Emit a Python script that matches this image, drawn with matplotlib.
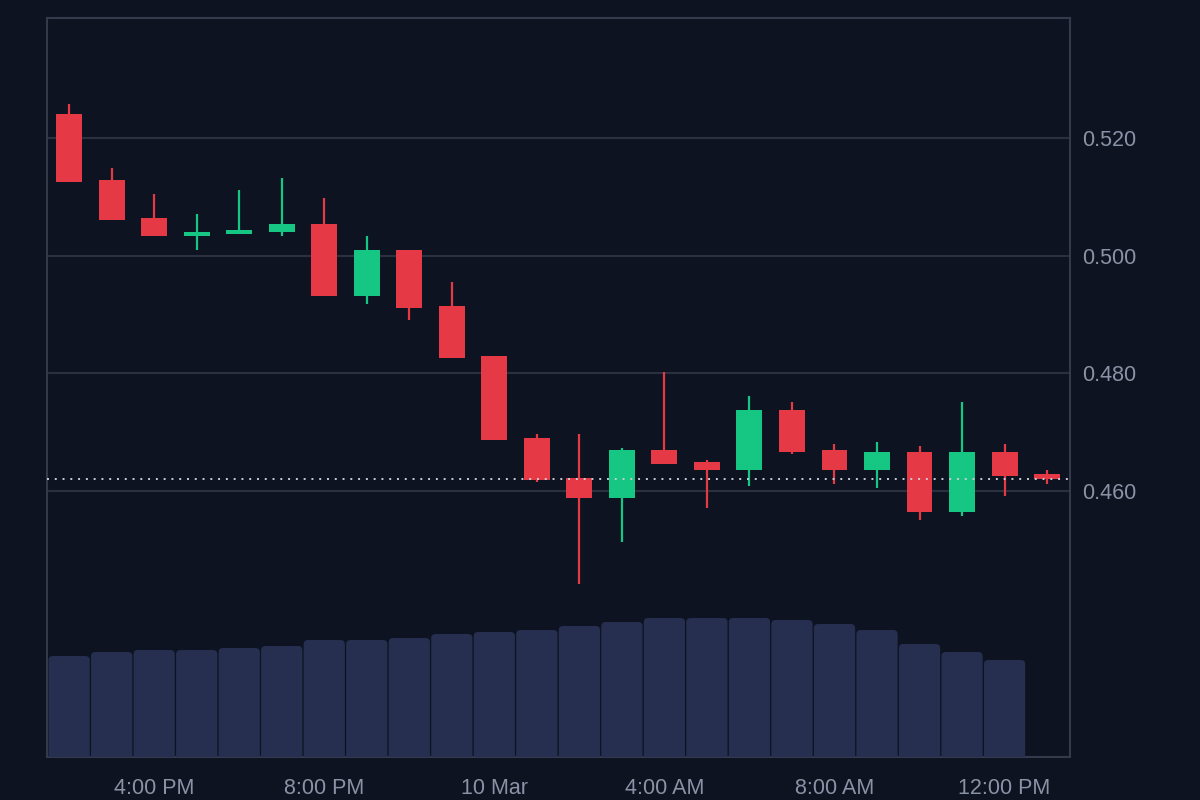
import numpy as np
import matplotlib
matplotlib.use('Agg')
import matplotlib.pyplot as plt
from matplotlib.patches import FancyBboxPatch

plt.rcParams['font.family'] = ['Liberation Sans', 'DejaVu Sans']

# hourly candles, 9 Mar 2:00 PM -> 10 Mar 1:00 PM
opens = [0.5241, 0.5129, 0.5064, 0.5034, 0.5037, 0.5040, 0.5054, 0.4931,
         0.5010, 0.4914, 0.4829, 0.4689, 0.4621, 0.4587, 0.4669, 0.4649,
         0.4635, 0.4737, 0.4669, 0.4635, 0.4666, 0.4563, 0.4666, 0.4628]
highs = [0.5258, 0.5149, 0.5105, 0.5071, 0.5112, 0.5132, 0.5098, 0.5034,
         0.5010, 0.4955, 0.4829, 0.4696, 0.4696, 0.4672, 0.4802, 0.4652,
         0.4761, 0.4751, 0.4679, 0.4683, 0.4676, 0.4751, 0.4679, 0.4635]
lows = [0.5126, 0.5061, 0.5034, 0.5010, 0.5037, 0.5034, 0.4931, 0.4918,
        0.4891, 0.4826, 0.4686, 0.4615, 0.4441, 0.4512, 0.4645, 0.4570,
        0.4608, 0.4662, 0.4611, 0.4604, 0.4550, 0.4557, 0.4591, 0.4611]
closes = [0.5126, 0.5061, 0.5034, 0.5040, 0.5044, 0.5054, 0.4931, 0.5010,
          0.4911, 0.4826, 0.4686, 0.4618, 0.4587, 0.4669, 0.4645, 0.4635,
          0.4737, 0.4666, 0.4635, 0.4666, 0.4563, 0.4666, 0.4625, 0.4620]
volumes = [101, 105, 107, 107, 109, 111, 117, 117, 119, 123, 125, 127,
           131, 135, 139, 139, 139, 137, 133, 127, 113, 105, 97]

tick_pos = [2, 6, 10, 14, 18, 22]
tick_labels = ['4:00 PM', '8:00 PM', '10 Mar', '4:00 AM', '8:00 AM', '12:00 PM']
price_ticks = [0.460, 0.480, 0.500, 0.520]

BG = '#0d1320'
UP = '#16c784'
DOWN = '#e63946'
VOL = '#262f50'
GRID = '#2a3040'
TXT = '#8a92a5'

fig = plt.figure(figsize=(12, 8), dpi=100, facecolor=BG)
ax = fig.add_axes([0.0392, 0.0537, 0.8525, 0.9238])
ax.set_facecolor(BG)

# volume on a twin axis (drawn behind the candles)
ax2 = ax.twinx()
ax2.set_ylim(0, 739)
ax2.axis('off')
for i, v in enumerate(volumes):
    box = FancyBboxPatch((i - 0.485, -10), 0.97, v + 10,
                         boxstyle='round,pad=0,rounding_size=0.1',
                         mutation_aspect=42.5, facecolor=VOL,
                         edgecolor='none', zorder=1)
    ax2.add_patch(box)

x = np.arange(len(opens))
for i in x:
    o, h, l, c = opens[i], highs[i], lows[i], closes[i]
    col = UP if c >= o else DOWN
    ax.vlines(i, l, h, color=col, linewidth=1.6, zorder=3)
    ax.bar(i, abs(c - o) if abs(c - o) > 0.0004 else 0.0006,
           bottom=min(o, c), width=0.61, color=col, zorder=4)

ax.axhline(closes[-1], color='#c9ccd3', linewidth=1.4,
           linestyle=(0, (1, 3)), zorder=5)

ax.set_xlim(-0.52, 23.54)
ax2.set_xlim(-0.52, 23.54)
ax.set_ylim(0.4146, 0.5405)
ax.set_yticks(price_ticks)
ax.set_yticklabels(['%.3f' % t for t in price_ticks])
ax.set_xticks(tick_pos)
ax.set_xticklabels(tick_labels)
ax.yaxis.tick_right()
ax.tick_params(axis='both', length=0, colors=TXT, labelsize=15.5)
ax.tick_params(axis='x', pad=15)
ax.tick_params(axis='y', pad=9)
ax.grid(axis='y', color=GRID, linewidth=1.5, zorder=0)
ax.set_axisbelow(True)
for s in ax.spines.values():
    s.set_color('#343a4b')
    s.set_linewidth(1.5)

fig.savefig('out.png', dpi=100, facecolor=BG)
